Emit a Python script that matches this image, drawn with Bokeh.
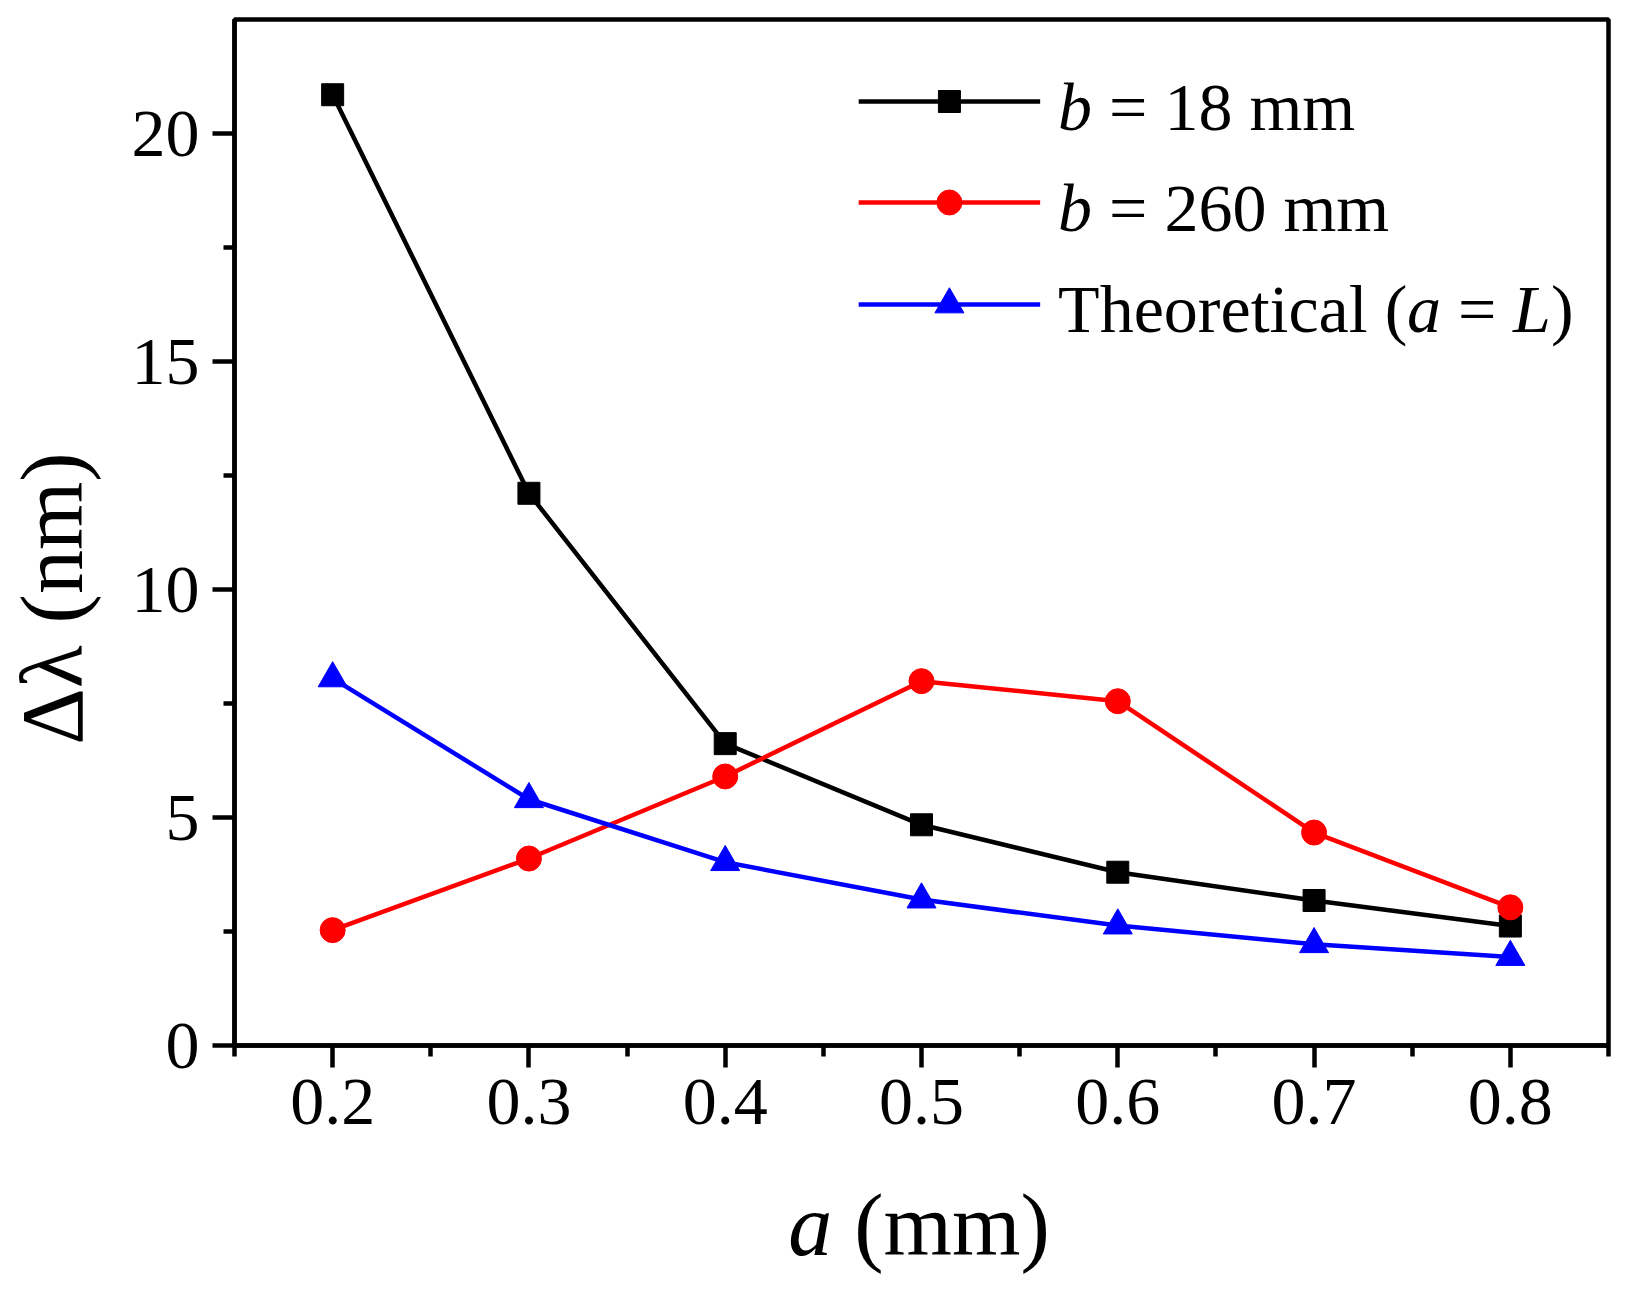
from bokeh.plotting import figure
from bokeh.layouts import column
from bokeh.models import Range1d, FixedTicker, Label, Div
from bokeh.embed import file_html
from bokeh.resources import INLINE


#########################################################
# data
#########################################################

a_mm = [0.2, 0.3, 0.4, 0.5, 0.6, 0.7, 0.8]
dl_b18 = [20.85, 12.11, 6.62, 4.84, 3.80, 3.18, 2.62]
dl_b260 = [2.53, 4.10, 5.90, 7.99, 7.55, 4.67, 3.03]
dl_theory = [8.05, 5.40, 4.02, 3.20, 2.63, 2.22, 1.94]

x_ticks = [0.2, 0.3, 0.4, 0.5, 0.6, 0.7, 0.8]
x_minor = [0.15, 0.25, 0.35, 0.45, 0.55, 0.65, 0.75, 0.85]
y_ticks = [0, 5, 10, 15, 20]
y_minor = [2.5, 7.5, 12.5, 17.5]

FONT = "Liberation Serif"
LW = 4.5

# plot box in pixels
W, H = 1618, 1145
LEFT, RIGHT, TOP, BOTTOM = 230, 10, 19, 100
X0, X1, Y0, Y1 = 0.15, 0.85, 0.0, 22.5


# pixel -> data units, for the hand made legend
def px_x(px):
    return X0 + (px - LEFT) / (W - LEFT - RIGHT) * (X1 - X0)


def px_y(py):
    return Y0 + (H - BOTTOM - py) / (H - TOP - BOTTOM) * (Y1 - Y0)


#########################################################
# plotting
#########################################################

p = figure(width=W, height=H, output_backend="svg", toolbar_location=None,
           x_range=Range1d(X0, X1), y_range=Range1d(Y0, Y1),
           min_border_left=LEFT, min_border_right=RIGHT,
           min_border_top=TOP, min_border_bottom=BOTTOM)
p.background_fill_color = "white"
p.border_fill_color = "white"
p.outline_line_color = "black"
p.outline_line_width = LW
p.xgrid.visible = False
p.ygrid.visible = False

p.xaxis.ticker = FixedTicker(ticks=x_ticks, minor_ticks=x_minor)
p.yaxis.ticker = FixedTicker(ticks=y_ticks, minor_ticks=y_minor)
for ax in [p.xaxis, p.yaxis]:
    ax.axis_line_width = LW
    ax.major_tick_line_width = LW
    ax.minor_tick_line_width = LW
    ax.major_tick_out = 22
    ax.major_tick_in = 0
    ax.minor_tick_out = 11
    ax.minor_tick_in = 0
    ax.major_label_text_font = FONT
    ax.major_label_text_font_size = "68px"
    ax.major_label_text_color = "black"
p.xaxis.major_label_standoff = 12
p.yaxis.major_label_standoff = 13
p.xaxis.axis_label = None

# y title, padded so that it sits a little below the middle like the original
p.yaxis.axis_label = "Δλ (nm)" + "\u00a0" * 6
p.yaxis.axis_label_text_font = FONT
p.yaxis.axis_label_text_font_size = "88px"
p.yaxis.axis_label_text_font_style = "normal"
p.yaxis.axis_label_text_color = "black"
p.yaxis.axis_label_standoff = 28

# series: line + symbols, drawn in order
series = [
    (dl_b18, "black", "square", 22),
    (dl_b260, "red", "circle", 25),
    (dl_theory, "blue", "triangle", 29),
]
for ys, color, marker, size in series:
    p.line(a_mm, ys, line_width=LW, color=color)
    p.scatter(a_mm, ys, marker=marker, size=size, color=color)

# legend drawn by hand, so that b, a and L can be italic
row_y = [101, 202, 304]
for (ys, color, marker, size), ry in zip(series, row_y):
    p.line([px_x(856), px_x(1038)], [px_y(ry), px_y(ry)], line_width=LW, color=color)
    p.scatter([px_x(947)], [px_y(ry)], marker=marker, size=size, color=color)

LEG = "68px"
legend_texts = [
    # (text, italic, x offset px, row middle)
    ("b", True, 0, 106),
    ("= 18 mm", False, 51, 106),
    ("b", True, 0, 207),
    ("= 260 mm", False, 51, 207),
    ("Theoretical (", False, 0, 308),
    ("a", True, 349, 308),
    ("=", False, 400, 308),
    ("L", True, 455, 308),
    (")", False, 493, 308),
]
for txt, italic, off, my in legend_texts:
    p.add_layout(Label(x=px_x(1056), y=px_y(my), x_offset=off, text=txt,
                       text_font=FONT, text_font_size=LEG,
                       text_font_style="italic" if italic else "normal",
                       text_align="left", text_baseline="middle", text_color="black"))

# x title under the figure, with an italic a
x_title = Div(text="<div style=\"font-family:'Liberation Serif';font-size:88px;line-height:88px;"
                   "color:black;text-align:center;margin-left:%dpx;width:%dpx;padding-top:37px\">"
                   "<i>a</i> (mm)</div>" % (LEFT, W - LEFT - RIGHT),
              width=W, height=140, margin=0)

layout = column(p, x_title, spacing=0)
open("out.html", "w").write(file_html(layout, INLINE))
